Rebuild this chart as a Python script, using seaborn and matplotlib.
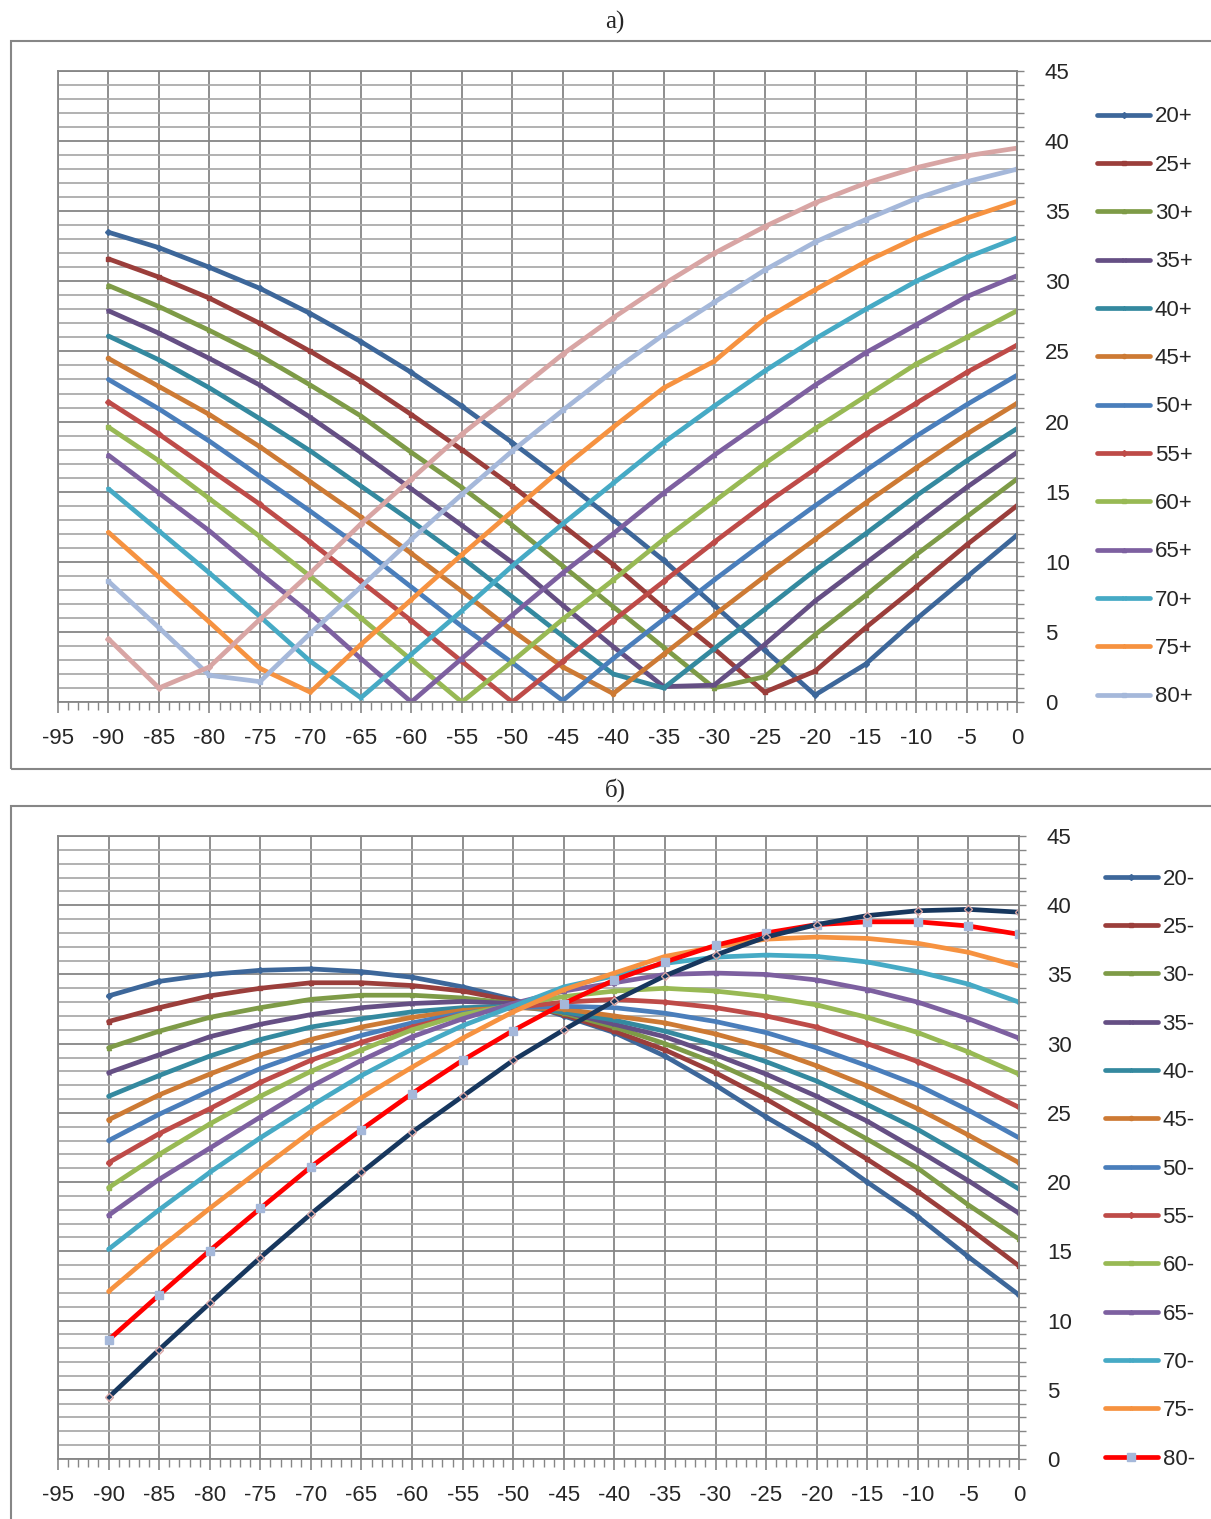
import matplotlib
matplotlib.use("Agg")
import matplotlib.pyplot as plt
import seaborn as sns
from matplotlib.patches import Rectangle
from matplotlib.ticker import MultipleLocator

sns.set_theme(style="white")
plt.rcParams["font.family"] = ["Liberation Sans", "DejaVu Sans"]
plt.rcParams["axes.unicode_minus"] = False

# x positions (degrees)
angles = [-90, -85, -80, -75, -70, -65, -60, -55, -50, -45,
          -40, -35, -30, -25, -20, -15, -10, -5, 0]

# panel a)  "+" series
a20 = [33.5, 32.4, 31.0, 29.5, 27.7, 25.7, 23.5, 21.1, 18.5, 15.8, 13.0, 10.1, 6.9, 3.7, 0.5, 2.7, 5.9, 8.9, 11.9]
a25 = [31.6, 30.3, 28.8, 27.0, 25.0, 22.9, 20.5, 18.0, 15.4, 12.6, 9.8, 6.7, 3.8, 0.7, 2.2, 5.3, 8.2, 11.2, 14.0]
a30 = [29.7, 28.2, 26.5, 24.7, 22.6, 20.4, 17.8, 15.3, 12.6, 9.7, 6.8, 3.9, 1.0, 1.8, 4.8, 7.6, 10.5, 13.2, 15.9]
a35 = [27.9, 26.3, 24.5, 22.6, 20.3, 17.8, 15.2, 12.6, 9.95, 6.9, 3.95, 1.1, 1.2, 4.1, 7.2, 9.9, 12.6, 15.3, 17.8]
a40 = [26.1, 24.4, 22.4, 20.2, 17.9, 15.4, 12.9, 10.3, 7.5, 4.7, 2.0, 1.0, 3.8, 6.6, 9.4, 12.0, 14.7, 17.2, 19.5]
a45 = [24.5, 22.5, 20.5, 18.2, 15.7, 13.2, 10.6, 7.9, 5.1, 2.5, 0.6, 3.4, 6.2, 8.95, 11.6, 14.2, 16.7, 19.1, 21.3]
a50 = [23.0, 20.9, 18.6, 16.1, 13.6, 11.0, 8.2, 5.4, 2.8, 0.1, 3.1, 5.9, 8.7, 11.4, 14.0, 16.5, 18.95, 21.2, 23.3]
a55 = [21.4, 19.1, 16.6, 14.1, 11.4, 8.6, 5.8, 2.9, 0.0, 2.9, 5.8, 8.6, 11.4, 14.1, 16.6, 19.1, 21.3, 23.5, 25.45]
a60 = [19.6, 17.2, 14.5, 11.8, 8.95, 6.0, 3.0, 0.0, 2.9, 5.9, 8.7, 11.6, 14.3, 17.0, 19.5, 21.8, 24.1, 26.0, 27.9]
a65 = [17.6, 14.9, 12.2, 9.2, 6.3, 3.1, 0.0, 3.1, 6.2, 9.2, 12.0, 14.9, 17.6, 20.1, 22.6, 24.9, 26.9, 28.9, 30.4]
a70 = [15.2, 12.2, 9.2, 6.1, 2.9, 0.3, 3.4, 6.5, 9.7, 12.7, 15.6, 18.5, 21.1, 23.6, 25.9, 28.0, 30.0, 31.7, 33.1]
a75 = [12.1, 8.9, 5.7, 2.4, 0.7, 4.1, 7.3, 10.5, 13.6, 16.7, 19.6, 22.4, 24.3, 27.3, 29.4, 31.4, 33.1, 34.5, 35.7]
a80 = [8.6, 5.3, 1.9, 1.45, 4.9, 8.2, 11.6, 14.8, 17.9, 20.8, 23.6, 26.2, 28.5, 30.8, 32.8, 34.4, 35.9, 37.1, 38.0]
a85 = [4.5, 1.0, 2.5, 5.9, 9.2, 12.7, 15.9, 19.1, 21.9, 24.8, 27.4, 29.8, 32.0, 33.9, 35.6, 37.0, 38.1, 38.95, 39.5]

# panel б)  "-" series
b20 = [33.45, 34.5, 35.0, 35.3, 35.4, 35.2, 34.8, 34.1, 33.2, 32.0, 30.8, 29.1, 27.0, 24.7, 22.6, 20.0, 17.5, 14.6, 11.85]
b25 = [31.6, 32.6, 33.45, 34.0, 34.4, 34.4, 34.2, 33.8, 33.1, 32.1, 30.9, 29.55, 27.9, 26.0, 23.9, 21.65, 19.3, 16.7, 13.95]
b30 = [29.7, 30.9, 31.9, 32.6, 33.2, 33.5, 33.5, 33.3, 32.9, 32.2, 31.2, 30.0, 28.6, 26.95, 25.1, 23.1, 21.0, 18.35, 15.9]
b35 = [27.9, 29.2, 30.5, 31.4, 32.1, 32.6, 32.9, 33.05, 32.9, 32.3, 31.4, 30.5, 29.2, 27.8, 26.2, 24.4, 22.3, 20.1, 17.75]
b40 = [26.2, 27.7, 29.1, 30.3, 31.2, 31.8, 32.3, 32.6, 32.7, 32.3, 31.7, 30.9, 29.9, 28.7, 27.3, 25.6, 23.8, 21.7, 19.5]
b45 = [24.5, 26.3, 27.8, 29.2, 30.3, 31.2, 31.9, 32.4, 32.6, 32.5, 32.0, 31.5, 30.7, 29.7, 28.4, 26.95, 25.3, 23.4, 21.4]
b50 = [23.0, 24.9, 26.6, 28.2, 29.5, 30.6, 31.5, 32.2, 32.6, 32.7, 32.6, 32.2, 31.6, 30.8, 29.7, 28.4, 27.0, 25.2, 23.2]
b55 = [21.4, 23.5, 25.3, 27.2, 28.8, 30.1, 31.2, 32.1, 32.6, 33.0, 33.2, 33.0, 32.6, 32.0, 31.2, 30.0, 28.7, 27.2, 25.4]
b60 = [19.6, 22.0, 24.2, 26.2, 28.0, 29.55, 31.0, 32.1, 32.8, 33.4, 33.8, 34.0, 33.8, 33.4, 32.8, 31.9, 30.8, 29.4, 27.8]
b65 = [17.6, 20.2, 22.45, 24.7, 26.9, 28.8, 30.5, 31.8, 32.9, 33.8, 34.4, 35.0, 35.1, 35.0, 34.6, 33.9, 33.0, 31.8, 30.4]
b70 = [15.15, 18.0, 20.7, 23.2, 25.5, 27.7, 29.6, 31.3, 32.7, 34.1, 34.9, 35.8, 36.25, 36.4, 36.3, 35.9, 35.2, 34.3, 33.0]
b75 = [12.1, 15.2, 18.1, 20.9, 23.65, 26.1, 28.3, 30.4, 32.3, 33.9, 35.1, 36.3, 37.0, 37.55, 37.7, 37.6, 37.25, 36.6, 35.6]
b80 = [8.6, 11.85, 15.05, 18.1, 21.1, 23.8, 26.4, 28.8, 30.95, 32.9, 34.6, 35.9, 37.1, 38.0, 38.6, 38.8, 38.8, 38.5, 37.9]
b85 = [4.45, 7.9, 11.25, 14.55, 17.7, 20.7, 23.6, 26.2, 28.8, 31.0, 33.1, 34.9, 36.4, 37.7, 38.6, 39.25, 39.6, 39.7, 39.5]

names = ["20", "25", "30", "35", "40", "45", "50", "55", "60", "65", "70", "75", "80", "85"]
colors = ["#3D679A", "#9B3E3B", "#7E9B47", "#654F84", "#34899F", "#CD7A34", "#4A7EBB",
          "#BE4B48", "#98B954", "#7D60A0", "#46AAC5", "#F69240", "#A5B8DA", "#D8A5A4"]
markers = ["D", "s", "^", "x", "*", "o", "+", "D", "s", "^", "x", "*", "s", "D"]

grid_major = "#868686"
grid_minor = "#ABABAB"

W, H = 1211, 1519
fig = plt.figure(figsize=(W / 100, H / 100), dpi=100)


def fx(px):
    return px / W


def fy(py):
    return 1 - py / H


def style_axis(ax):
    ax.set_xlim(-95, 0)
    ax.set_ylim(0, 45)
    ax.xaxis.set_major_locator(MultipleLocator(5))
    ax.xaxis.set_minor_locator(MultipleLocator(1))
    ax.yaxis.set_major_locator(MultipleLocator(5))
    ax.yaxis.set_minor_locator(MultipleLocator(1))
    ax.yaxis.tick_right()
    ax.set_axisbelow(True)
    ax.grid(which="minor", axis="y", color=grid_minor, lw=1.3)
    ax.grid(which="major", axis="both", color=grid_major, lw=1.3)
    for sp in ax.spines.values():
        sp.set_color(grid_major)
        sp.set_linewidth(1.3)
    ax.tick_params(axis="x", which="major", direction="out", length=8,
                   color=grid_major, width=1.2, labelsize=16, pad=11,
                   bottom=True)
    ax.tick_params(axis="x", which="minor", direction="out", length=6,
                   color=grid_major, width=1.0, bottom=True)
    ax.tick_params(axis="y", which="both", direction="out", length=5,
                   color=grid_major, width=1.0, labelsize=16, pad=15,
                   right=True, left=False)
    ax.set_xlabel("")
    ax.set_ylabel("")


def draw_panel(ax, series, suffix, special):
    for i, vals in enumerate(series):
        col = colors[i]
        mk = markers[i]
        mfc = col
        mec = col
        ms = 3
        lbl = names[i] + suffix
        if names[i] == "85":
            lbl = "_nolegend_"
        if special and names[i] == "80":
            col, mfc, mec, ms = "#FF0000", "#A5B8DA", "#A5B8DA", 6
        if special and names[i] == "85":
            col, mfc, mec, ms = "#17375E", "none", "#D8A5A4", 4
        sns.lineplot(x=angles, y=vals, ax=ax, color=col, lw=3.4, label=lbl,
                     marker=mk, markersize=ms, markerfacecolor=mfc,
                     markeredgecolor=mec, markeredgewidth=1.0, sort=False)
    style_axis(ax)


# outer chart frames
fig.patches.append(Rectangle((fx(11), fy(769)), 1.1, fy(41) - fy(769),
                             transform=fig.transFigure, fill=False,
                             edgecolor=grid_major, lw=1.5, clip_on=False))
fig.patches.append(Rectangle((fx(11), fy(1540)), 1.1, fy(806) - fy(1540),
                             transform=fig.transFigure, fill=False,
                             edgecolor=grid_major, lw=1.5, clip_on=False))

ax_a = fig.add_axes([fx(58), fy(702), fx(1017) - fx(58), fy(71) - fy(702)])
draw_panel(ax_a, [a20, a25, a30, a35, a40, a45, a50, a55, a60, a65, a70, a75, a80, a85], "+", False)
ax_a.legend(loc="upper left", bbox_to_anchor=(1.074, 0.958), frameon=False,
            fontsize=16, handlelength=2.4, handletextpad=0.2, labelspacing=1.23,
            borderaxespad=0)

ax_b = fig.add_axes([fx(58), fy(1459), fx(1019) - fx(58), fy(836) - fy(1459)])
draw_panel(ax_b, [b20, b25, b30, b35, b40, b45, b50, b55, b60, b65, b70, b75, b80, b85], "-", True)
ax_b.legend(loc="upper left", bbox_to_anchor=(1.080, 0.962), frameon=False,
            fontsize=16, handlelength=2.4, handletextpad=0.2, labelspacing=1.23,
            borderaxespad=0)

fig.text(fx(615), fy(22), "а)", ha="center", va="center", fontsize=18,
         family=["Liberation Serif", "DejaVu Serif"])
fig.text(fx(615), fy(790), "б)", ha="center", va="center", fontsize=18,
         family=["Liberation Serif", "DejaVu Serif"])

fig.savefig("out.png", dpi=100, facecolor="white")
